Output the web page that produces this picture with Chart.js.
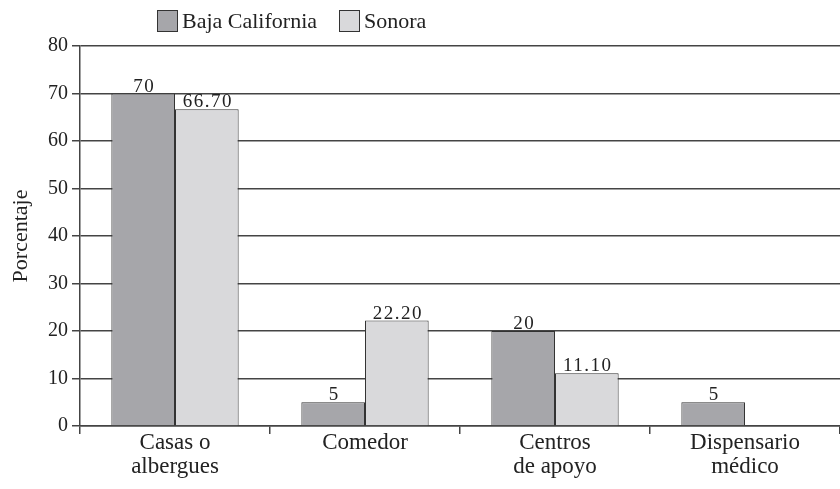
<!DOCTYPE html>
<html>
<head>
<meta charset="utf-8">
<script src="https://cdn.jsdelivr.net/npm/chart.js@4"></script>
<style>
  html, body { margin: 0; padding: 0; background: #fff; }
  #wrap { position: relative; width: 840px; height: 489px; }
  #leyenda { position: absolute; left: 157px; top: 8px; display: flex; font: 22px "Liberation Serif", serif; color: #222; }
  #leyenda span { display: flex; align-items: center; margin-right: 22px; }
  #leyenda i { display: inline-block; width: 21px; height: 22px; border: 1px solid #333; margin-right: 4px; box-sizing: border-box; }
</style>
</head>
<body>
<div id="wrap">
  <canvas id="grafico" width="840" height="489"></canvas>
  <div id="leyenda"></div>
</div>
<script>
const categorias = [['Casas o', 'albergues'], 'Comedor', ['Centros', 'de apoyo'], ['Dispensario', 'médico']];
const bajaCalifornia = [70, 5, 20, 5];
const sonora = [66.7, 22.2, 11.1, null];
const colores = ['#a6a6aa', '#d9d9db'];

const fuente = '"Liberation Serif", serif';

// etiquetas de valor encima de cada barra
const etiquetas = {
  id: 'etiquetas',
  afterDatasetsDraw(chart) {
    const ctx = chart.ctx;
    ctx.save();
    ctx.font = '19px ' + fuente;
    ctx.letterSpacing = '1.5px';
    ctx.fillStyle = '#222';
    ctx.textAlign = 'center';
    ctx.textBaseline = 'alphabetic';
    chart.data.datasets.forEach((ds, i) => {
      chart.getDatasetMeta(i).data.forEach((bar, j) => {
        const v = ds.data[j];
        if (v == null) return;
        const txt = i === 0 ? String(v) : v.toFixed(2);
        ctx.fillText(txt, bar.x + 1, bar.y - 2);
      });
    });
    ctx.restore();
  }
};

const ctx = document.getElementById('grafico').getContext('2d');
const chart = new Chart(ctx, {
  type: 'bar',
  data: {
    labels: categorias,
    datasets: [
      { label: 'Baja California', data: bajaCalifornia, backgroundColor: colores[0], borderColor: '#333', borderWidth: 1 },
      { label: 'Sonora', data: sonora, backgroundColor: colores[1], borderColor: '#333', borderWidth: 1 }
    ]
  },
  options: {
    responsive: false,
    animation: false,
    layout: { padding: { top: 46, right: 0, left: 0, bottom: 0 } },
    datasets: { bar: { categoryPercentage: 0.67, barPercentage: 1 } },
    plugins: { legend: { display: false }, tooltip: { enabled: false } },
    scales: {
      x: {
        grid: { offset: true, drawOnChartArea: false, tickLength: 8, color: '#444', lineWidth: 1.5 },
        border: { color: '#444', width: 1.5 },
        ticks: { color: '#222', font: { family: fuente, size: 23, lineHeight: 1.05 }, padding: -3 },
        afterFit(s) { s.height = 63; }
      },
      y: {
        min: 0, max: 80,
        ticks: { stepSize: 10, color: '#222', font: { family: fuente, size: 20 }, padding: 4 },
        grid: { color: '#444', lineWidth: 1.5, tickLength: 8 },
        border: { color: '#444', width: 1.5 },
        title: { display: true, text: 'Porcentaje', color: '#222', font: { family: fuente, size: 22 }, padding: { top: 8, bottom: 0 } },
        afterFit(s) { s.width = 80; }
      }
    }
  },
  plugins: [etiquetas]
});

// leyenda en HTML
const ley = document.getElementById('leyenda');
chart.data.datasets.forEach(ds => {
  const s = document.createElement('span');
  s.innerHTML = '<i style="background:' + ds.backgroundColor + '"></i>' + ds.label;
  ley.appendChild(s);
});
</script>
</body>
</html>
